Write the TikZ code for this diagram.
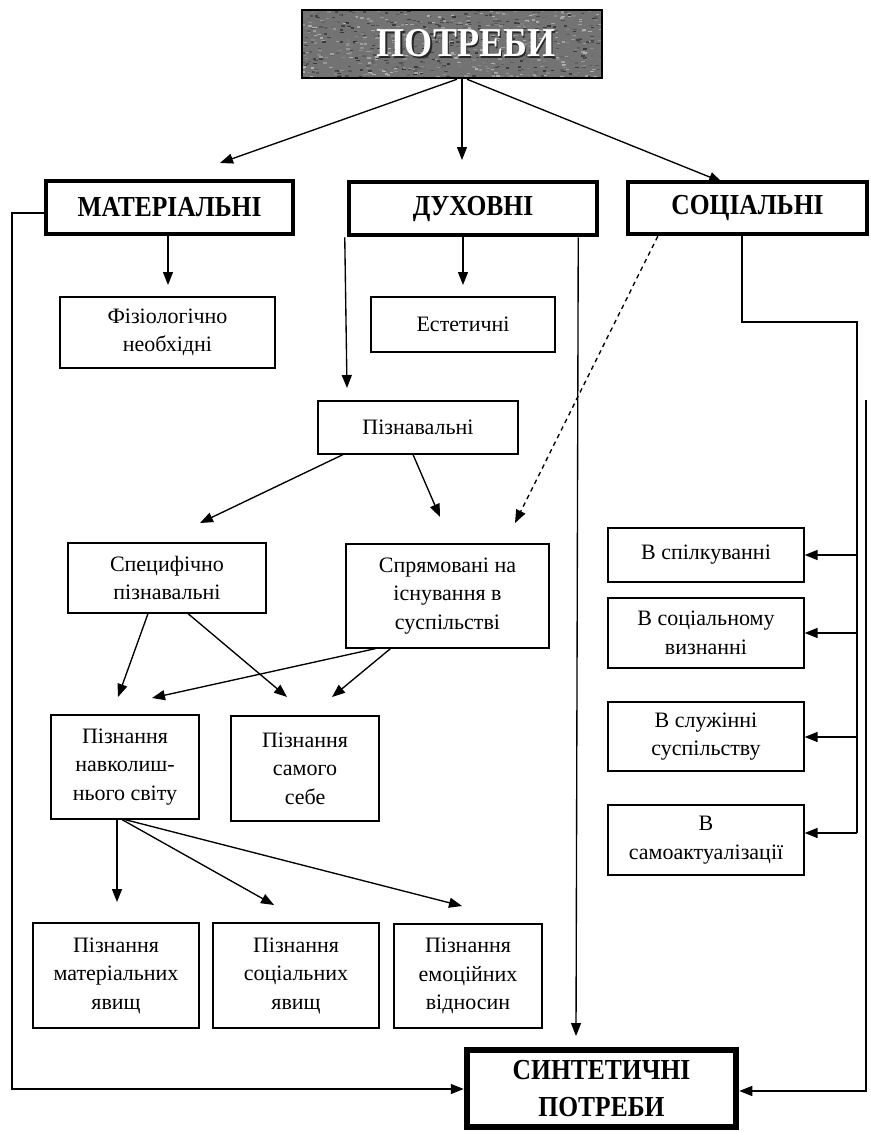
\documentclass[tikz,border=0pt]{standalone}
\usepackage{fontspec}
\setmainfont{Liberation Serif}
\newfontfamily\hfont[FakeStretch=0.88]{Liberation Serif}
\usetikzlibrary{arrows.meta}
\begin{document}
\begin{tikzpicture}[x=1pt,y=-1pt,
  sz/.style 2 args={minimum width=#1, minimum height=#2},
  box/.style={draw, line width=1.2pt, align=center, inner sep=2pt,
    font=\fontsize{22}{28.5}\selectfont},
  hbox/.style={draw, line width=4.5pt, align=center, inner sep=2pt,
    font=\hfont\bfseries\fontsize{29}{36}\selectfont},
  ln/.style={line width=1.35pt},
  arr/.style={ln, -{Triangle[length=13pt,width=10pt]}},
  dsh/.style={arr, dash pattern=on 4.5pt off 4pt},
]
\useasboundingbox (0,0) rectangle (870,1132);
\fill[white] (0,0) rectangle (870,1132);

% textured grey title box
\begin{scope}
  \clip (302,10) rectangle (602,78);
  \fill[black!55] (302,10) rectangle (602,78);
  \pgfmathsetseed{11}
  \foreach \i in {1,...,900}{
    \pgfmathsetmacro\xx{300+304*rnd}
    \pgfmathsetmacro\yy{8+72*rnd}
    \pgfmathtruncatemacro\gg{30+50*rnd}
    \fill[black!\gg] (\xx,\yy) rectangle ++(3.5,1.4);
  }
\end{scope}
\node[draw, line width=2.5pt, sz={300pt}{68pt}, inner sep=0pt,
  font=\hfont\bfseries\fontsize{41}{44}\selectfont, text=white]
  (potr) at (452,44) {\hspace{28pt}\makebox[0pt][l]{\raisebox{-1.5pt}{\hspace{1.5pt}\textcolor{black!85}{ПОТРЕБИ}}}ПОТРЕБИ};

% level 1
\node[hbox, sz={247pt}{53pt}] (mat) at (169.5,207.5) {МАТЕРІАЛЬНІ};
\node[hbox, sz={248pt}{53pt}] (duh) at (473,208.5) {ДУХОВНІ};
\node[hbox, sz={239pt}{52pt}] (soc) at (747.5,208) {СОЦІАЛЬНІ};

% level 2
\node[box, sz={215pt}{71pt}] (fiz) at (167.5,332.5) {Фізіологічно\\необхідні};
\node[box, sz={184pt}{55pt}] (est) at (463,324.5) {Естетичні};
\node[box, sz={200pt}{53pt}] (pizn) at (418,427.5) {Пізнавальні};

\node[box, sz={198pt}{70pt}] (spec) at (167,578) {Специфічно\\пізнавальні};
\node[box, sz={203pt}{104pt}] (spr) at (447.5,596) {Спрямовані на\\існування в\\суспільстві};

\node[box, sz={148pt}{104pt}] (navk) at (125,767) {Пізнання\\навколиш-\\нього світу};
\node[box, sz={148pt}{105pt}] (sam) at (305,768.5) {Пізнання\\самого\\себе};

\node[box, sz={166pt}{105pt}] (pm) at (116,975.5) {Пізнання\\матеріальних\\явищ};
\node[box, sz={166pt}{105pt}] (ps) at (296,975.5) {Пізнання\\соціальних\\явищ};
\node[box, sz={148pt}{104pt}] (pe) at (468,976) {Пізнання\\емоційних\\відносин};

% right column
\node[box, sz={196pt}{54pt}] (r1) at (706,555) {В спілкуванні};
\node[box, sz={196pt}{70pt}] (r2) at (706,633) {В соціальному\\визнанні};
\node[box, sz={196pt}{69pt}] (r3) at (706,736.5) {В служінні\\суспільству};
\node[box, sz={196pt}{70pt}] (r4) at (706,840) {В\\самоактуалізації};

% bottom
\node[draw, line width=6.5pt, sz={269pt}{77pt}, align=center, inner sep=2pt,
  font=\hfont\bfseries\fontsize{29}{37}\selectfont] (syn) at (601.5,1088.5)
  {СИНТЕТИЧНІ\\ПОТРЕБИ};

% free ends / bends
\coordinate (tMat) at (220,163);
\coordinate (tDuh) at (462,160);
\coordinate (tSoc) at (722,182);
\coordinate (L1) at (12,213);
\coordinate (L2) at (12,1089);
\coordinate (tFiz) at (168,285);
\coordinate (tPizn) at (347,388);
\coordinate (tEst) at (463,285);
\coordinate (D2) at (576,1036);
\coordinate (tSpr) at (515,523);
\coordinate (S1) at (742,322);
\coordinate (S2) at (857,322);
\coordinate (S3) at (857,833);
\coordinate (R1) at (866,400);
\coordinate (R2) at (866,1091);
\coordinate (tSpec) at (200,523);
\coordinate (tSpr2) at (440,517);
\coordinate (tN1) at (118,697);
\coordinate (tS1) at (287,697);
\coordinate (tN2) at (152,698);
\coordinate (tS2) at (332,697);
\coordinate (tPm) at (117,902);
\coordinate (tPs) at (274,905);
\coordinate (tPe) at (462,906);

% connectors
\draw[arr] ([xshift=5pt]potr.south) -- (tMat);
\draw[arr] ([xshift=10pt]potr.south) -- (tDuh);
\draw[arr] ([xshift=15pt]potr.south) -- (tSoc);

\draw[arr] ([yshift=-5.5pt]mat.west) -- (L1) -- (L2) -- (L2 -| syn.west);
\draw[arr] ([xshift=-1.5pt]mat.south) -- (tFiz);

\draw[arr] ([xshift=-2pt]duh.south west) -- (tPizn);
\draw[arr] ([xshift=-10pt]duh.south) -- (tEst);
\draw[arr] ([xshift=-21pt]duh.south east) -- (D2);

\draw[dsh] ([xshift=32pt]soc.south west) -- (tSpr);
\draw[ln] ([xshift=-5.5pt]soc.south) -- (S1) -- (S2) -- (S3);
\draw[arr] (S3) -- (S3 -| r4.east);
\draw[arr] (r1.east -| S2) -- (r1.east);
\draw[arr] (r2.east -| S2) -- (r2.east);
\draw[arr] ([yshift=-0.5pt]r3.east -| S2) -- ([yshift=-0.5pt]r3.east);
\draw[arr] (R1) -- (R2) -- (R2 -| syn.east);

\draw[arr] ([xshift=-75pt]pizn.south) -- (tSpec);
\draw[arr] ([xshift=-5pt]pizn.south) -- (tSpr2);

\draw[arr] ([xshift=-19pt]spec.south) -- (tN1);
\draw[arr] ([xshift=21pt]spec.south) -- (tS1);
\draw[arr] ([xshift=-72pt]spr.south) -- (tN2);
\draw[arr] ([xshift=-57pt]spr.south) -- (tS2);

\draw[arr] ([xshift=-8pt]navk.south) -- (tPm);
\draw[arr] ([xshift=-3pt]navk.south) -- (tPs);
\draw[arr] (navk.south) -- (tPe);
\end{tikzpicture}
\end{document}
